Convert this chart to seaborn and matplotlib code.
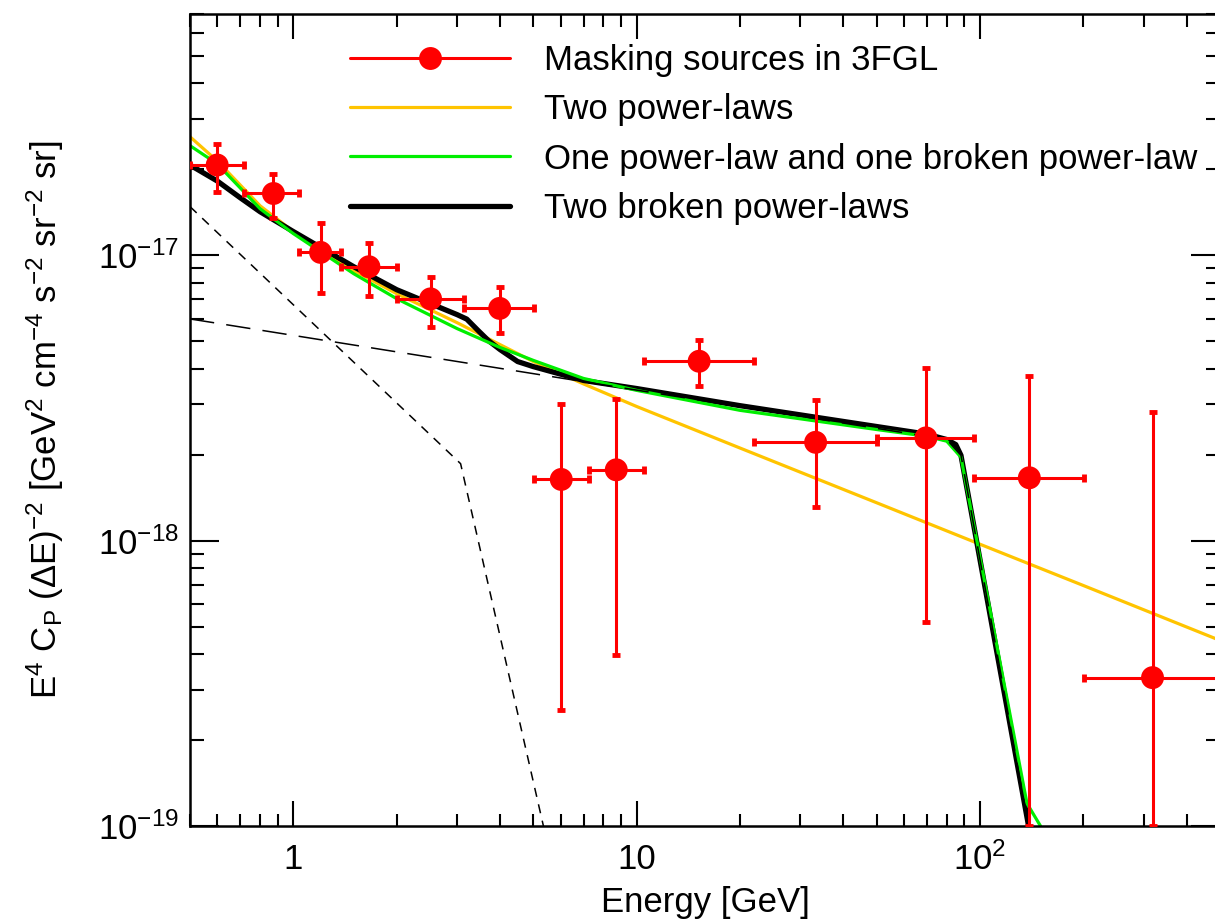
import numpy as np
import pandas as pd
import matplotlib
matplotlib.use("Agg")
import matplotlib.pyplot as plt
import seaborn as sns
from matplotlib.lines import Line2D
from matplotlib.ticker import FixedLocator, FixedFormatter, NullFormatter

# ---------------- data ----------------
energy = [0.60, 0.875, 1.20, 1.66, 2.51, 3.99, 6.03, 8.72, 15.2, 33.2, 69.6, 139.2, 318.0]
e_lo = [0.50, 0.72, 1.04, 1.38, 2.00, 3.15, 5.03, 7.26, 10.47, 22.0, 50.2, 95.8, 200.8]
e_hi = [0.72, 1.04, 1.38, 2.00, 3.15, 5.03, 7.26, 10.47, 22.0, 50.2, 95.8, 200.8, 500.0]
cp = [2.07e-17, 1.645e-17, 1.023e-17, 9.11e-18, 7.03e-18, 6.51e-18, 1.638e-18,
      1.77e-18, 4.25e-18, 2.21e-18, 2.29e-18, 1.66e-18, 3.31e-19]
cp_lo = [1.67e-17, 1.35e-17, 7.35e-18, 7.18e-18, 5.62e-18, 5.34e-18, 2.55e-19,
         3.97e-19, 3.48e-18, 1.31e-18, 5.19e-19, 1.0e-19, 1.0e-19]
cp_hi = [2.46e-17, 1.93e-17, 1.30e-17, 1.10e-17, 8.36e-18, 7.71e-18, 3.02e-18,
         3.13e-18, 5.05e-18, 3.10e-18, 4.04e-18, 3.76e-18, 2.83e-18]

two_pl_x = [0.5, 0.6, 0.8, 1.0, 1.5, 2, 3, 4, 5, 7, 10, 20, 50, 100, 200, 500]
two_pl_y = [2.60e-17, 2.14e-17, 1.49e-17, 1.21e-17, 8.83e-18, 7.33e-18, 5.80e-18, 4.86e-18,
            4.24e-18, 3.54e-18, 2.95e-18, 2.11e-18, 1.357e-18, 9.71e-19, 6.96e-19, 4.47e-19]

pl_bpl_x = [0.5, 0.6, 0.8, 1.0, 1.5, 2, 3, 4, 5, 7, 10, 20, 50, 70, 80, 88, 137, 150]
pl_bpl_y = [2.42e-17, 2.09e-17, 1.455e-17, 1.19e-17, 8.61e-18, 7.04e-18, 5.53e-18, 4.75e-18,
            4.28e-18, 3.70e-18, 3.36e-18, 2.86e-18, 2.45e-18, 2.32e-18, 2.23e-18, 1.96e-18,
            1.2e-19, 1.0e-19]

two_bpl_x = [0.5, 0.6, 0.7, 0.8, 1.0, 1.5, 2, 3, 3.2, 3.45, 3.7, 4, 4.5, 5, 7, 10, 20, 50,
             70, 80, 85, 88, 138.5]
two_bpl_y = [2.07e-17, 1.82e-17, 1.59e-17, 1.42e-17, 1.21e-17, 9.11e-18, 7.57e-18, 6.19e-18,
             5.97e-18, 5.45e-18, 5.02e-18, 4.67e-18, 4.24e-18, 4.07e-18, 3.64e-18, 3.41e-18,
             2.97e-18, 2.51e-18, 2.36e-18, 2.26e-18, 2.17e-18, 1.99e-18, 1.0e-19]

soft_bpl_x = [0.5, 3.07, 5.35]
soft_bpl_y = [1.48e-17, 1.86e-18, 1.0e-19]

hard_bpl_x = [0.5, 80, 88, 138.5]
hard_bpl_y = [5.98e-18, 2.26e-18, 1.99e-18, 1.0e-19]

legend_labels = ["Masking sources in 3FGL", "Two power-laws",
                 "One power-law and one broken power-law", "Two broken power-laws"]
xtick_vals = [1, 10, 100]
xtick_labels = ["1", "10", "$10^2$"]
ytick_vals = [1e-19, 1e-18, 1e-17]
ytick_labels = ["$10^{-19}$", "$10^{-18}$", "$10^{-17}$"]

# ---------------- style ----------------
sns.set_theme(style="ticks")
plt.rcParams["font.family"] = ["Liberation Sans", "DejaVu Sans"]
plt.rcParams["mathtext.fontset"] = "custom"
plt.rcParams["mathtext.rm"] = "Liberation Sans"
plt.rcParams["mathtext.it"] = "Liberation Sans:italic"
plt.rcParams["mathtext.bf"] = "Liberation Sans:bold"
plt.rcParams["mathtext.default"] = "regular"
plt.rcParams["text.color"] = "black"
plt.rcParams["axes.labelcolor"] = "black"
plt.rcParams["xtick.color"] = "black"
plt.rcParams["ytick.color"] = "black"

RED = "#ff0000"
YELLOW = "#ffc400"
GREEN = "#00ee00"

fig = plt.figure(figsize=(12.15, 9.22), dpi=100)
ax = fig.add_axes([190 / 1215, 96 / 922, 1030 / 1215, 812 / 922])
ax.set_xscale("log")
ax.set_yscale("log")

sns.lineplot(x=two_pl_x, y=two_pl_y, ax=ax, color=YELLOW, lw=2.3, sort=False, estimator=None)
sns.lineplot(x=two_bpl_x, y=two_bpl_y, ax=ax, color="black", lw=3.8, sort=False, estimator=None)
sns.lineplot(x=pl_bpl_x, y=pl_bpl_y, ax=ax, color=GREEN, lw=2.3, sort=False, estimator=None)
sns.lineplot(x=hard_bpl_x, y=hard_bpl_y, ax=ax, color="black", lw=1.1,
             linestyle=(0, (16, 8)), sort=False, estimator=None)
sns.lineplot(x=soft_bpl_x, y=soft_bpl_y, ax=ax, color="black", lw=1.1,
             linestyle=(0, (6, 5)), sort=False, estimator=None)

e = np.array(energy)
c = np.array(cp)
xerr = [e - np.array(e_lo), np.array(e_hi) - e]
yerr = [c - np.array(cp_lo), np.array(cp_hi) - c]
ax.errorbar(e, c, xerr=xerr, yerr=yerr, fmt="none", ecolor=RED, elinewidth=2.2,
            capsize=3, capthick=3.5, zorder=5, clip_on=True)
sns.scatterplot(x=energy, y=cp, ax=ax, color=RED, s=16.5 ** 2, edgecolor="none",
                zorder=6, legend=False)

ax.set_xlim(0.5, 500)
ax.set_ylim(1e-19, 7e-17)

ax.xaxis.set_major_locator(FixedLocator(xtick_vals))
ax.xaxis.set_major_formatter(FixedFormatter(xtick_labels))
ax.yaxis.set_major_locator(FixedLocator(ytick_vals))
ax.yaxis.set_major_formatter(FixedFormatter(ytick_labels))
ax.xaxis.set_minor_formatter(NullFormatter())
ax.yaxis.set_minor_formatter(NullFormatter())

for s in ax.spines.values():
    s.set_linewidth(1.8)
    s.set_color("black")
ax.tick_params(axis="both", which="both", direction="in", top=True, right=True,
               colors="black", width=1.5)
ax.tick_params(axis="x", which="major", length=18, labelsize=25, pad=12)
ax.tick_params(axis="x", which="minor", length=9)
ax.tick_params(axis="y", which="major", length=21, labelsize=25, pad=8)
ax.tick_params(axis="y", which="minor", length=10)

ax.set_xlabel("Energy [GeV]", fontsize=25, labelpad=6, color="black")
ax.set_ylabel(r"E$^4$ C$_P$ ($\Delta$E)$^{-2}$ [GeV$^2$ cm$^{-4}$ s$^{-2}$ sr$^{-2}$ sr]",
              fontsize=25, labelpad=23, color="black")

handles = [
    Line2D([], [], color=RED, lw=2.2, marker="o", ms=16.5, markeredgewidth=0),
    Line2D([], [], color=YELLOW, lw=2.3),
    Line2D([], [], color=GREEN, lw=2.3),
    Line2D([], [], color="black", lw=3.8),
]
leg = fig.legend(handles, legend_labels, loc="upper left",
                 bbox_to_anchor=(350 / 1215, 1 - 44 / 922), frameon=False, fontsize=25,
                 handlelength=4.6, handletextpad=1.0, labelspacing=0.47, borderpad=0,
                 borderaxespad=0)
for t in leg.get_texts():
    t.set_color("black")

fig.savefig("out.png", dpi=100)
